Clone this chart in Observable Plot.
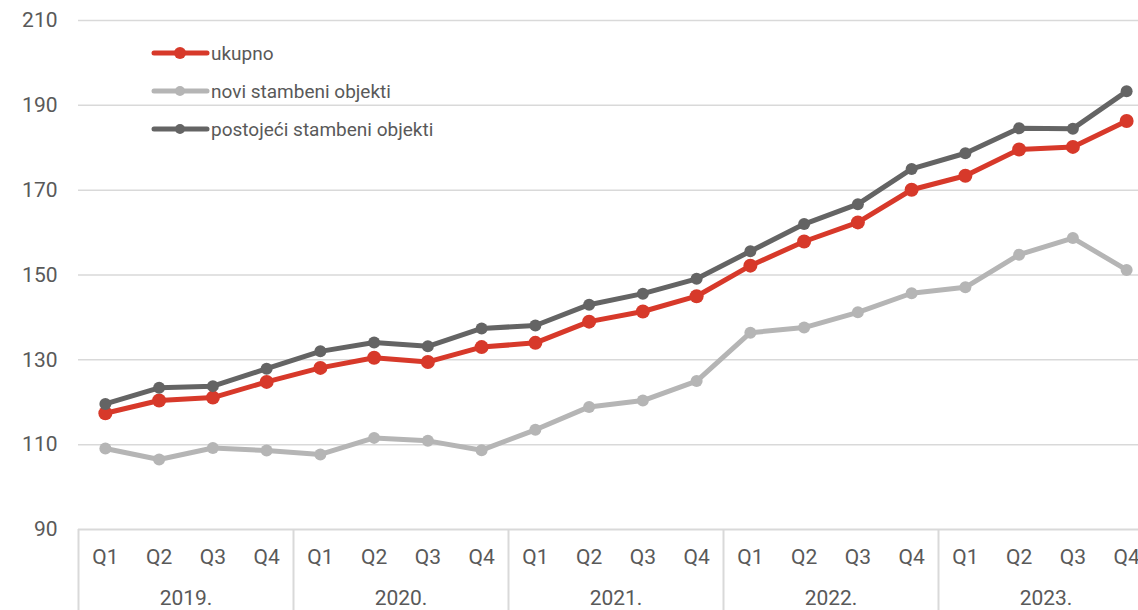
<!DOCTYPE html>
<html><head><meta charset="utf-8">
<script src="https://cdn.jsdelivr.net/npm/d3@7"></script>
<script src="https://cdn.jsdelivr.net/npm/@observablehq/plot@0.6"></script>
<style>
html,body{margin:0;padding:0;background:#fff;overflow:hidden;width:1138px;height:610px}
#wrap{position:relative;width:1138px;height:610px;overflow:hidden}
#chart svg{max-width:none !important;display:block}
#legend{position:absolute;left:150px;top:34px;font-family:Roboto,"Noto Sans",sans-serif;font-size:19px;color:#595959}
#legend .row{display:flex;align-items:center;height:38px}
#legend svg{display:block;margin-right:1px}
</style></head>
<body><div id="wrap"><div id="chart"></div><div id="legend"></div></div>
<script>
const years = ["2019.", "2020.", "2021.", "2022.", "2023."];
const quarters = ["Q1", "Q2", "Q3", "Q4"];
const seriesNames = ["ukupno", "novi stambeni objekti", "postojeći stambeni objekti"];
const seriesColors = ["#d7392a", "#b5b5b5", "#646464"];
const ukupno = [117.4,120.4,121.1,124.8,128.1,130.5,129.5,133.0,134.0,139.0,141.4,145.0,152.2,157.9,162.4,170.1,173.4,179.6,180.2,186.3];
const novi = [109.1,106.5,109.2,108.6,107.7,111.6,110.9,108.7,113.5,118.9,120.4,125.0,136.4,137.6,141.2,145.7,147.1,154.8,158.7,151.2];
const postojeci = [119.6,123.4,123.8,127.9,132.0,134.1,133.2,137.4,138.1,143.0,145.6,149.1,155.6,162.0,166.7,175.0,178.7,184.6,184.5,193.3];
const yTicks = [90, 110, 130, 150, 170, 190, 210];

const seriesValues = [ukupno, novi, postojeci];
const idx = d3.range(ukupno.length);
const qPos = idx.map(i => i + 0.5);
const yearBounds = d3.range(0, years.length * 4 + 1, 4);
const radii = [7, 6, 6];

const marks = [
  Plot.ruleY(yTicks.slice(1), {stroke: "#d9d9d9", strokeWidth: 1.5}),
  Plot.ruleY([yTicks[0]], {stroke: "#d9d9d9", strokeWidth: 2}),
  Plot.axisY({ticks: yTicks, tickSize: 0, tickPadding: 21, tickFormat: d => String(d)}),
  Plot.axisX({ticks: qPos, tickSize: 0, tickPadding: 20, tickFormat: v => quarters[Math.floor(v) % 4]}),
  Plot.axisX({ticks: yearBounds, tickSize: 81, tickFormat: () => "", stroke: "#d9d9d9", strokeWidth: 2}),
  Plot.text(years, {x: (d, i) => i * 4 + 2, frameAnchor: "bottom", dy: 69, text: d => d, lineAnchor: "middle"})
];
seriesValues.forEach((vals, s) => {
  marks.push(Plot.line(idx, {x: i => i + 0.5, y: i => vals[i], stroke: seriesColors[s], strokeWidth: 5, strokeLinejoin: "round", strokeLinecap: "round"}));
  marks.push(Plot.dot(idx, {x: i => i + 0.5, y: i => vals[i], fill: seriesColors[s], r: radii[s], stroke: "none"}));
});

const chart = Plot.plot({
  width: 1153,
  height: 610,
  marginLeft: 78,
  marginRight: 0,
  marginTop: 20,
  marginBottom: 81,
  x: {domain: [0, 20], axis: null},
  y: {domain: [90, 210], axis: null},
  style: {fontFamily: "Roboto, 'Noto Sans', sans-serif", fontSize: "21px", color: "#595959", background: "#fff", overflow: "visible", maxWidth: "none"},
  marks
});
document.getElementById("chart").appendChild(chart);

const legend = document.getElementById("legend");
seriesNames.forEach((name, s) => {
  const row = document.createElement("div");
  row.className = "row";
  row.innerHTML = `<svg width="60" height="20"><line x1="4" y1="10" x2="57" y2="10" stroke="${seriesColors[s]}" stroke-width="5" stroke-linecap="round"/><circle cx="30" cy="10" r="${radii[s] - 1}" fill="${seriesColors[s]}"/></svg><span>${name}</span>`;
  legend.appendChild(row);
});
</script></body></html>
